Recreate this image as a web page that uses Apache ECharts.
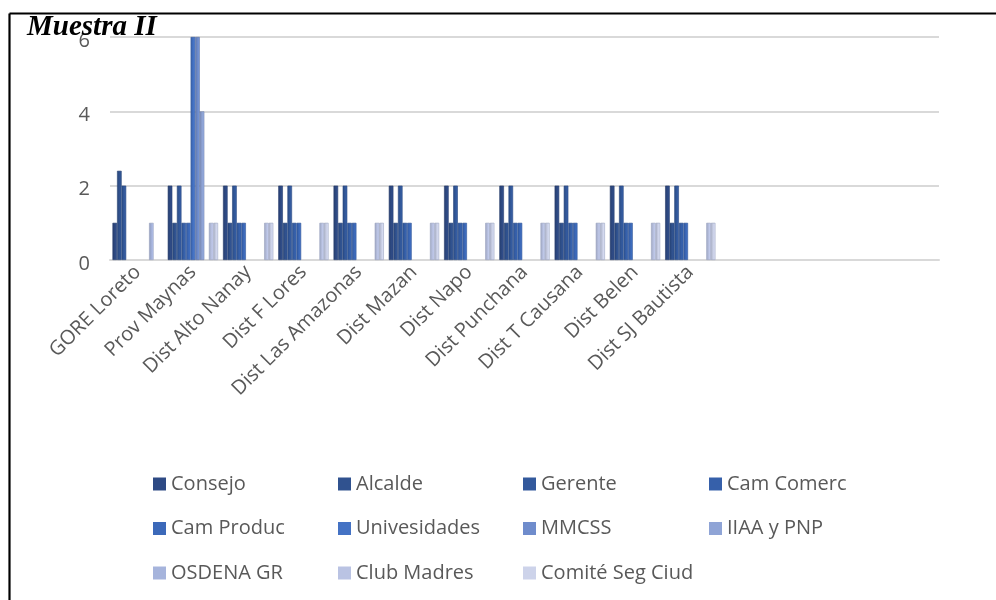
<!DOCTYPE html>
<html>
<head>
<meta charset="utf-8">
<script src="https://cdn.jsdelivr.net/npm/echarts@6/dist/echarts.min.js"></script>
<style>
html,body{margin:0;padding:0;background:#fff;}
#c{width:996px;height:600px;}
</style>
</head>
<body>
<div id="c"></div>
<script>
const categories = ['GORE Loreto','Prov Maynas','Dist Alto Nanay','Dist F Lores','Dist Las Amazonas','Dist Mazan','Dist Napo','Dist Punchana','Dist T Causana','Dist Belen','Dist SJ Bautista','','','',''];
const seriesNames = ['Consejo','Alcalde','Gerente','Cam Comerc','Cam Produc','Univesidades','MMCSS','IIAA y PNP','OSDENA GR','Club Madres','Comité Seg Ciud'];
const consejo    = [1,   2, 2, 2, 2, 2, 2, 2, 2, 2, 2];
const alcalde    = [2.4, 1, 1, 1, 1, 1, 1, 1, 1, 1, 1];
const gerente    = [2,   2, 2, 2, 2, 2, 2, 2, 2, 2, 2];
const camComerc  = [0,   1, 1, 1, 1, 1, 1, 1, 1, 1, 1];
const camProduc  = [0,   1, 1, 1, 1, 1, 1, 1, 1, 1, 1];
const univ       = [0,   6, 0, 0, 0, 0, 0, 0, 0, 0, 0];
const mmcss      = [0,   6, 0, 0, 0, 0, 0, 0, 0, 0, 0];
const iiaa       = [0,   4, 0, 0, 0, 0, 0, 0, 0, 0, 0];
const osdena     = [1,   0, 0, 0, 0, 0, 0, 0, 0, 0, 0];
const clubMadres = [0,   1, 1, 1, 1, 1, 1, 1, 1, 1, 1];
const comite     = [0,   1, 1, 1, 1, 1, 1, 1, 1, 1, 1];
const yTicks = [0, 2, 4, 6];

const allData = [consejo, alcalde, gerente, camComerc, camProduc, univ, mmcss, iiaa, osdena, clubMadres, comite];
const colors = ['#2E4A84','#30528F','#33599C','#3660AA','#3C69B9','#4472C4','#6F8CCC','#8FA4D6','#A6B4DC','#BAC3E3','#CDD3EA'];

function shade(hex, f) {
  const n = parseInt(hex.slice(1), 16);
  let r = (n >> 16) & 255, g = (n >> 8) & 255, b = n & 255;
  r = Math.round(Math.min(255, r * f)); g = Math.round(Math.min(255, g * f)); b = Math.round(Math.min(255, b * f));
  return 'rgb(' + r + ',' + g + ',' + b + ')';
}

const series = seriesNames.map((name, i) => ({
  name: name,
  type: 'bar',
  data: allData[i].map(v => v === 0 ? '-' : v),
  barGap: '0%',
  barCategoryGap: '9%',
  itemStyle: {
    color: {
      type: 'linear', x: 0, y: 0, x2: 1, y2: 0,
      colorStops: [
        { offset: 0, color: shade(colors[i], 0.85) },
        { offset: 0.6, color: colors[i] },
        { offset: 1, color: shade(colors[i], 1.12) }
      ]
    },
    borderColor: i >= 8 ? '#9AA3C0' : shade(colors[i], 0.8),
    borderWidth: 0.6
  }
}));

// legend laid out in 4 columns, 3 rows
const legendCols = [[0, 4, 8], [1, 5, 9], [2, 6, 10], [3, 7]];
const legendLefts = [148, 333, 518, 704];
function mkLegend(idxs, left) {
  return {
    data: idxs.map(k => ({ name: seriesNames[k], itemStyle: { color: colors[k], borderWidth: 0 } })),
    left: left, top: 465, orient: 'vertical',
    itemWidth: 13, itemHeight: 13, itemGap: 16.5,
    icon: 'rect',
    textStyle: { fontFamily: 'Open Sans', fontSize: 20, color: '#595959', lineHeight: 28 },
    selectedMode: false
  };
}

const chart = echarts.init(document.getElementById('c'));
chart.setOption({
  animation: false,
  backgroundColor: '#fff',
  color: colors,
  grid: { left: 110, right: 57, top: 37, bottom: 340, containLabel: false },
  xAxis: {
    type: 'category',
    data: categories,
    axisLine: { show: true, lineStyle: { color: '#D9D9D9', width: 2 } },
    axisTick: { show: false },
    axisLabel: { rotate: 45, interval: 0, margin: 9, fontFamily: 'Open Sans', fontSize: 20, color: '#595959' }
  },
  yAxis: {
    type: 'value',
    min: 0, max: 6, interval: 2,
    axisLine: { show: false },
    axisTick: { show: false },
    splitLine: { lineStyle: { color: '#D9D9D9', width: 2 } },
    axisLabel: { margin: 20, fontFamily: 'Open Sans', fontSize: 20, color: '#595959',
      formatter: v => yTicks.indexOf(v) >= 0 ? '{a|' + v + '}' : '',
      rich: { a: { fontFamily: 'Open Sans', fontSize: 20, color: '#595959', padding: [8, 0, 0, 0] } } }
  },
  legend: legendCols.map((c, j) => mkLegend(c, legendLefts[j])),
  series: series,
  graphic: [
    { type: 'line', shape: { x1: 9.5, y1: 13.5, x2: 996, y2: 13.5 }, style: { stroke: '#000', lineWidth: 2.2 }, z: 100 },
    { type: 'line', shape: { x1: 9.5, y1: 13.5, x2: 9.5, y2: 600 }, style: { stroke: '#000', lineWidth: 2.2 }, z: 100 },
    { type: 'text', left: 27, top: 13, z: 1,
      style: { text: 'Muestra II', font: 'italic bold 29px "Liberation Serif"', fill: '#000' } }
  ]
});
</script>
</body>
</html>
